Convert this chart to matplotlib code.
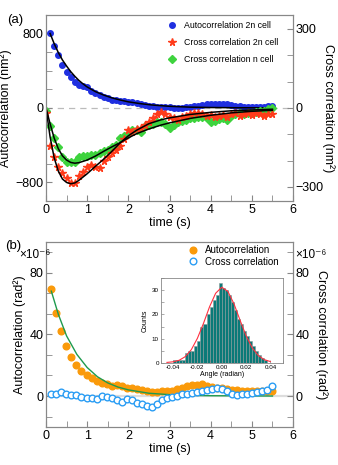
import numpy as np
import matplotlib
matplotlib.use("Agg")
import matplotlib.pyplot as plt
from matplotlib.ticker import MultipleLocator

plt.rcParams['font.family'] = ['Liberation Sans', 'DejaVu Sans']

# ---------- panel (a) data ----------
t_auto2n = np.round(np.arange(0.1, 5.51, 0.1), 2)
auto2n = [800, 670, 565, 460, 390, 330, 280, 245, 230, 220,
          180, 155, 135, 120, 105, 90, 80, 75, 72, 68,
          60, 50, 40, 30, 22, 16, 14, 14, 10, 5,
          0, -5, 0, 5, 10, 15, 20, 30, 38, 40,
          42, 45, 42, 38, 30, 22, 15, 10, 8, 10,
          12, 8, 12, 20, 18]
t_fit_auto = [0.1, 0.2, 0.3, 0.4, 0.5, 0.6, 0.7, 0.8, 0.9, 1.0, 1.2, 1.4, 1.6,
              1.8, 2.0, 2.3, 2.6, 3.0, 3.5, 4.0, 4.5, 5.5]
fit_auto = [800, 690, 595, 515, 450, 390, 340, 295, 258, 225, 175, 138, 108,
            85, 65, 45, 30, 17, 8, 4, 2, 0]

t_cross = np.round(np.arange(0.0, 5.51, 0.1), 2)
cross2n = [-20, -145, -185, -225, -248, -265, -285, -285, -258, -242,
           -225, -215, -225, -230, -200, -185, -170, -160, -145, -120,
           -85, -90, -80, -75, -65, -55, -40, -22, -15, -25,
           -35, -40, -45, -35, -30, -25, -20, -18, -25, -30,
           -28, -35, -30, -28, -35, -25, -20, -30, -25, -20,
           -28, -20, -25, -30, -25, -22]
crossn = [-10, -70, -115, -150, -185, -205, -205, -205, -188, -183,
          -183, -180, -178, -172, -165, -160, -150, -140, -115, -105,
          -100, -85, -85, -90, -70, -65, -60, -55, -55, -60,
          -78, -65, -55, -50, -45, -40, -38, -35, -35, -40,
          -55, -50, -42, -40, -45, -30, -25, -20, -22, -20,
          -18, -15, -12, -10, -5, 0]
t_fit_cross = [0.0, 0.1, 0.2, 0.3, 0.4, 0.5, 0.6, 0.7, 0.8, 1.0, 1.2, 1.4, 1.6,
               1.8, 2.0, 2.2, 2.5, 2.8, 3.0, 3.5, 4.0, 4.5, 5.0, 5.5]
fit_cross2n = [0, -110, -190, -240, -270, -283, -288, -285, -275, -250, -222,
               -195, -165, -133, -106, -85, -60, -45, -38, -25, -17, -11, -8, -5]
fit_crossn = [0, -60, -115, -155, -182, -198, -207, -210, -208, -198, -183,
              -165, -148, -132, -114, -98, -80, -65, -57, -40, -28, -19, -13, -9]

# ---------- panel (b) data ----------
t_b = np.linspace(0.13, 5.5, 45)
auto_rad = [69.4, 54, 42, 32.5, 25.5, 20, 16.5, 13.5, 11.5, 10,
            8.5, 7.5, 6.5, 7, 6.5, 5.5, 5, 4.5, 4, 3,
            2.5, 2.5, 3, 3, 3.5, 4.5, 5.5, 6.5, 7, 7,
            7.5, 6.5, 6, 5.5, 5, 4.5, 4, 4, 3.5, 3.5,
            3.5, 3, 3, 3.5, 3.5]
cross_rad = [1, 1.6, 2.7, 1.5, 0.7, 0.5, -0.5, -1.2, -1, -1.7,
             0, -0.5, -1.5, -2.5, -3.8, -2, -2.6, -4.3, -5.2, -6.5,
             -7, -5, -2.5, -1.5, -0.6, 0.3, 1.2, 1.6, 1.8, 2.5,
             3.2, 3.8, 4.5, 5.3, 4.5, 3.2, 1.5, 0.6, 1.2, 1.6,
             2.2, 2.7, 3.2, 3.8, 6.3]
t_fit_b = [0.13, 0.3, 0.5, 0.75, 1.0, 1.25, 1.5, 1.75, 2.0, 2.5, 3.0, 3.5, 4.0, 5.5]
fit_b = [68, 53, 39, 27, 18.5, 12.5, 8.5, 5.8, 4, 1.8, 0.9, 0.4, 0.2, 0]

# inset histogram
bin_centers = [-0.04375, -0.04125, -0.03875, -0.03625, -0.03375, -0.03125,
               -0.02875, -0.02625, -0.02375, -0.02125, -0.01875, -0.01625,
               -0.01375, -0.01125, -0.00875, -0.00625, -0.00375, -0.00125,
               0.00125, 0.00375, 0.00625, 0.00875, 0.01125, 0.01375,
               0.01625, 0.01875, 0.02125, 0.02375, 0.02625, 0.02875,
               0.03125, 0.03375, 0.03625, 0.03875]
counts = [0, 0, 1, 1, 1, 1, 4, 5, 5, 7, 9, 15, 16, 20, 23, 26, 28, 33,
          31, 30, 28, 25, 22, 18, 16, 13, 11, 9, 7, 5, 3, 2, 1, 0]
gauss_x = [-0.045, -0.04, -0.035, -0.03, -0.025, -0.02, -0.015, -0.01, -0.005,
           0.0, 0.005, 0.01, 0.015, 0.02, 0.025, 0.03, 0.035, 0.04]
gauss_y = [0.12, 0.37, 1.0, 2.5, 5.4, 10.1, 16.3, 23.2, 28.8,
           31.3, 29.6, 24.5, 17.7, 11.2, 6.2, 3.0, 1.25, 0.47]

spine_col = '#888888'


def style(ax):
    for s in ax.spines.values():
        s.set_color(spine_col)
    ax.tick_params(which='both', direction='in', color=spine_col, length=4,
                   labelsize=9, pad=2)


fig = plt.figure(figsize=(3.38, 4.65), dpi=100)

# ---------------- (a) ----------------
ax1 = fig.add_axes([0.136, 0.568, 0.731, 0.40])
ax1.axhline(0, color='#bbbbbb', ls=(0, (5, 4)), lw=0.9, zorder=0)
h1, = ax1.plot(t_auto2n, auto2n, 'o', color='#1f2fe0', ms=4, mec='#1f2fe0',
               label='Autocorrelation 2n cell')
ax1.plot(t_fit_auto, fit_auto, color='black', lw=1.1)
ax1.set_xlim(0, 6)
ax1.set_ylim(-1000, 1000)
ax1.set_yticks([-800, 0, 800])
ax1.yaxis.set_minor_locator(MultipleLocator(200))
ax1.xaxis.set_minor_locator(MultipleLocator(0.5))
ax1.set_xticks(range(7))
ax1.set_xlabel('time (s)', fontsize=9, labelpad=1)
ax1.set_ylabel('Autocorrelation (nm²)', fontsize=9, labelpad=2)
style(ax1)

ax1r = ax1.twinx()
h3, = ax1r.plot(t_cross, crossn, 'D', color='#3ed33e', ms=3.6,
                label='Cross correlation n cell')
h2, = ax1r.plot(t_cross, cross2n, '*', color='#ff3b1a', ms=5.5,
                label='Cross correlation 2n cell')
ax1r.plot(t_fit_cross, fit_cross2n, color='black', lw=1.1)
ax1r.plot(t_fit_cross, fit_crossn, color='black', lw=1.1)
ax1r.set_ylim(-353, 353)
ax1r.set_yticks([-300, 0, 300])
ax1r.yaxis.set_minor_locator(MultipleLocator(100))
ax1r.set_ylabel('Cross correlation (nm²)', fontsize=9, rotation=270, labelpad=8)
style(ax1r)
ax1r.legend([h1, h2, h3], [h1.get_label(), h2.get_label(), h3.get_label()],
            loc='upper right', bbox_to_anchor=(0.965, 1.0), frameon=False,
            fontsize=6.3, handletextpad=0.4, labelspacing=0.9, borderaxespad=0.3)
fig.text(0.022, 0.951, '(a)', fontsize=9.5)

# ---------------- (b) ----------------
ax2 = fig.add_axes([0.136, 0.082, 0.731, 0.398])
ax2.axhline(0, color='#dddddd', lw=1.6, zorder=0)
h4, = ax2.plot(t_b, auto_rad, 'o', color='#fa9a0a', ms=4.8, label='Autocorrelation')
ax2.plot(t_fit_b, fit_b, color='#1e9a4e', lw=1.0)
ax2.set_xlim(0, 6)
ax2.set_ylim(-20, 100)
ax2.set_yticks([0, 40, 80])
ax2.yaxis.set_minor_locator(MultipleLocator(40 / 3))
ax2.set_xticks(range(7))
ax2.xaxis.set_minor_locator(MultipleLocator(0.5))
ax2.set_xlabel('time (s)', fontsize=9, labelpad=1)
ax2.set_ylabel('Autocorrelation (rad²)', fontsize=9, labelpad=2)
style(ax2)

ax2r = ax2.twinx()
h5, = ax2r.plot(t_b, cross_rad, 'o', mfc='white', mec='#2a9df4', mew=1.0, ms=4.8,
                label='Cross correlation')
ax2r.set_ylim(-20, 100)
ax2r.set_yticks([0, 40, 80])
ax2r.yaxis.set_minor_locator(MultipleLocator(40 / 3))
ax2r.set_ylabel('Cross correlation (rad²)', fontsize=9, rotation=270, labelpad=13)
style(ax2r)
ax2r.legend([h4, h5], ['Autocorrelation', 'Cross correlation'],
            loc='upper right', bbox_to_anchor=(0.97, 1.02), frameon=False,
            fontsize=7, handletextpad=0.3, labelspacing=0.2, borderaxespad=0.3)
fig.text(0.015, 0.465, '(b)', fontsize=9.5)
fig.text(0.056, 0.445, '×10⁻⁶', fontsize=8.5)
fig.text(0.872, 0.445, '×10⁻⁶', fontsize=8.5)

# ---------------- inset ----------------
axi = fig.add_axes([0.476, 0.22, 0.36, 0.1815])
axi.bar(bin_centers, counts, width=0.0025, color='#0a7a78', edgecolor='#8a9a9a',
        linewidth=0.4)
axi.plot(gauss_x, gauss_y, color='#ff3040', lw=0.8)
axi.set_xlim(-0.05, 0.05)
axi.set_ylim(0, 35)
axi.set_xticks([-0.04, -0.02, 0.0, 0.02, 0.04])
axi.set_xticklabels(['-0.04', '-0.02', '0.00', '0.02', '0.04'])
axi.set_yticks([0, 10, 20, 30])
axi.yaxis.set_minor_locator(MultipleLocator(5))
axi.xaxis.set_minor_locator(MultipleLocator(0.01))
for s in axi.spines.values():
    s.set_color(spine_col)
    s.set_linewidth(0.6)
axi.tick_params(which='both', direction='in', color=spine_col, length=2,
                labelsize=4.5, pad=1.5, width=0.5)
axi.set_xlabel('Angle (radian)', fontsize=5, labelpad=1)
axi.set_ylabel('Counts', fontsize=5, labelpad=2)

fig.savefig('out.png', dpi=100)
